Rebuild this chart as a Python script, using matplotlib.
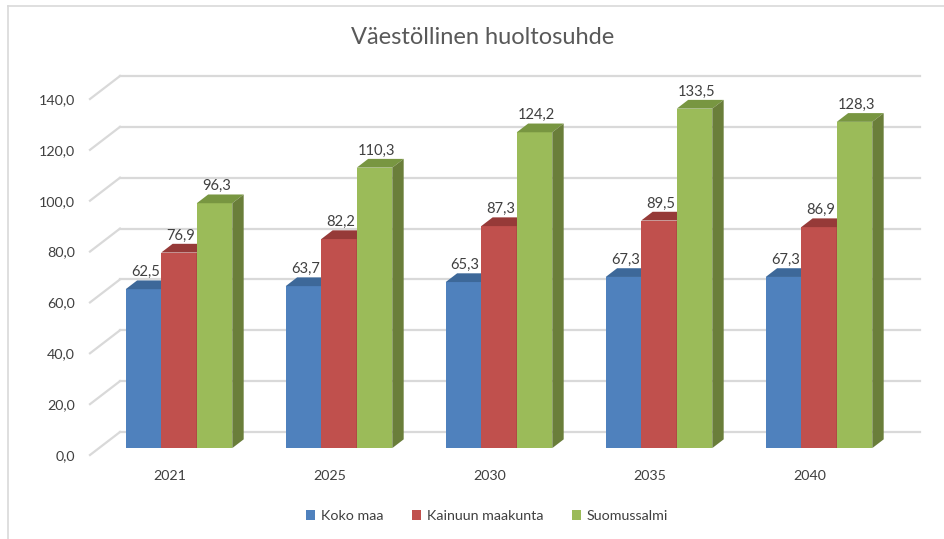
import matplotlib
matplotlib.use("Agg")
import matplotlib.pyplot as plt
from matplotlib.patches import Polygon, Patch
from matplotlib.lines import Line2D

plt.rcParams['font.family'] = ['Lato', 'DejaVu Sans']

# ---- data ----
years = ["2021", "2025", "2030", "2035", "2040"]
series_names = ["Koko maa", "Kainuun maakunta", "Suomussalmi"]
koko_maa = [62.5, 63.7, 65.3, 67.3, 67.3]
kainuu = [76.9, 82.2, 87.3, 89.5, 86.9]
suomussalmi = [96.3, 110.3, 124.2, 133.5, 128.3]
yticks = [0, 20, 40, 60, 80, 100, 120, 140]
title = "Väestöllinen huoltosuhde"

series = [koko_maa, kainuu, suomussalmi]
face_cols = ["#4F81BD", "#C0504D", "#9BBB59"]
top_cols = ["#3D6899", "#963A38", "#789641"]
side_cols = ["#345882", "#7E302E", "#6A7E3A"]

W, H = 945, 539
fig = plt.figure(figsize=(W / 100, H / 100), dpi=100)

# pixel geometry of plot region
left_px, right_px = 90, 920
bottom_px, top_px = 455, 76
ax = fig.add_axes([left_px / W, 1 - bottom_px / H,
                   (right_px - left_px) / W, (bottom_px - top_px) / H])

px_per_cat = 160.0
px_per_val = 2.543
DX = 30 / px_per_cat      # full depth offset in category units
DY = 23 / px_per_val      # full depth offset in value units
ax.set_xlim(-0.5, len(years) - 0.5 + DX)
ax.set_ylim(0, max(yticks) + DY)
for s in ax.spines.values():
    s.set_visible(False)

grid_col = "#D9D9D9"
x0 = -0.5
x1 = len(years) - 0.5
for v in yticks:
    ax.add_line(Line2D([x0 + DX, x1 + DX], [v + DY, v + DY], color=grid_col,
                       lw=1.6, zorder=1, clip_on=False))
    ax.add_line(Line2D([x0, x0 + DX], [v, v + DY], color=grid_col,
                       lw=1.6, zorder=1, clip_on=False))

# bars
f = 0.30   # depth position of bar front face
b = 0.38   # bar depth
fx, fy = f * DX, f * DY
bx, by = b * DX, b * DY
bw = 0.222
nser = len(series)
for gi, yr in enumerate(years):
    for si in range(nser):
        val = series[si][gi]
        xl = gi - bw * nser / 2 + si * bw + fx
        xr = xl + bw
        yb = fy
        yt = fy + val
        # front face
        ax.add_patch(Polygon([(xl, yb), (xr, yb), (xr, yt), (xl, yt)],
                             closed=True, facecolor=face_cols[si],
                             edgecolor="none", zorder=3, clip_on=False))
        # top face
        ax.add_patch(Polygon([(xl, yt), (xr, yt), (xr + bx, yt + by), (xl + bx, yt + by)],
                             closed=True, facecolor=top_cols[si],
                             edgecolor="none", zorder=3, clip_on=False))
        # side face
        ax.add_patch(Polygon([(xr, yb), (xr + bx, yb + by), (xr + bx, yt + by), (xr, yt)],
                             closed=True, facecolor=side_cols[si],
                             edgecolor="none", zorder=3, clip_on=False))
        ax.text((xl + xr) / 2 + bx * 0.15, yt + by + 0.5,
                f"{val:.1f}".replace(".", ","), ha="center", va="bottom",
                fontsize=10.6, color="#404040", zorder=5)

ax.set_xticks(range(len(years)))
ax.set_xticklabels(years)
ax.set_yticks(yticks)
ax.set_yticklabels([f"{v:.1f}".replace(".", ",") for v in yticks])
ax.tick_params(axis="both", length=0, labelsize=10.3, colors="#404040")
ax.tick_params(axis="y", pad=11)
ax.tick_params(axis="x", pad=11)
ax.patch.set_alpha(0)

# title
fig.text(483 / W, 1 - 38 / H, title, ha="center", va="center",
         fontsize=17, color="#595959")

# legend
handles = [Patch(facecolor=c, edgecolor="none", label=n)
           for c, n in zip(face_cols, series_names)]
leg = fig.legend(handles=handles, loc="center", bbox_to_anchor=(487 / W, 1 - 516 / H),
                 ncol=3, frameon=False, fontsize=10.3, handlelength=0.65,
                 handleheight=0.65, handletextpad=0.4, columnspacing=2.0)
for t in leg.get_texts():
    t.set_color("#404040")

# chart frame (left and top visible)
fig.add_artist(Line2D([8 / W, 8 / W], [0, 1 - 6 / H], color="#D9D9D9", lw=1.2))
fig.add_artist(Line2D([8 / W, 1], [1 - 6 / H, 1 - 6 / H], color="#D9D9D9", lw=1.2))

fig.savefig("out.png", dpi=100)
